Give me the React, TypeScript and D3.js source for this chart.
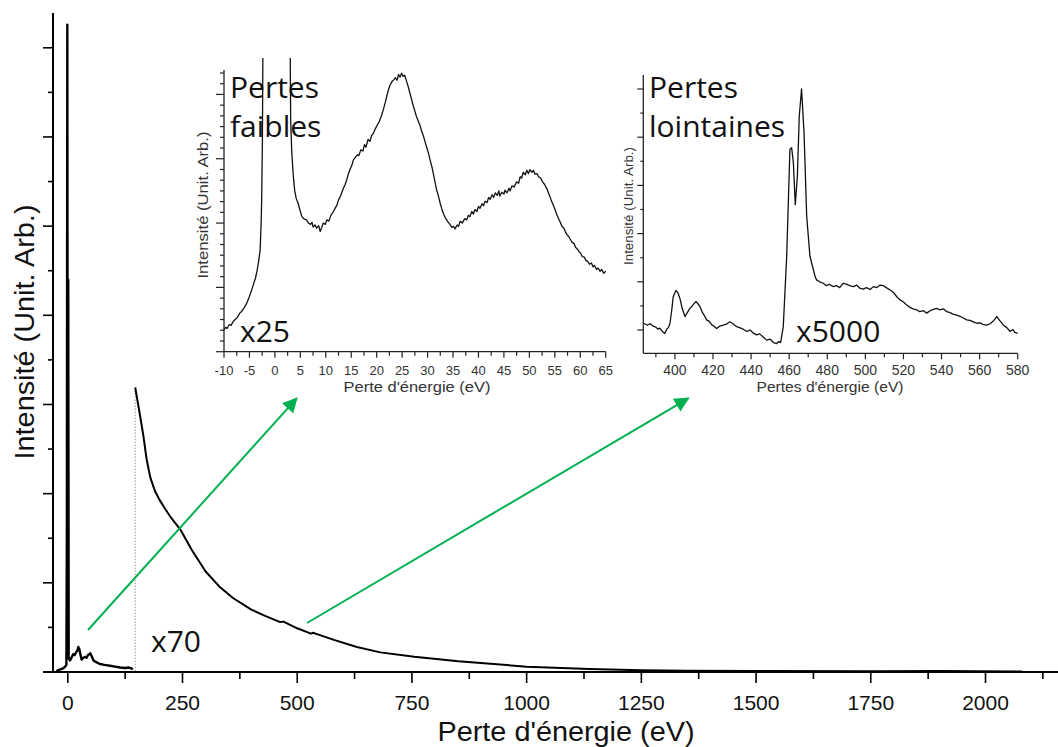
import React from "react";
import * as d3 from "d3";

// ---------- Main spectrum data (eV, intensity a.u.) ----------
const lowLossEV = [-25, -21, -10, -6, -3, -2, -1, 0, 1, 2, 5, 8, 12, 15, 18, 21, 23, 25, 27, 30, 34, 38, 41, 44, 47, 49, 52, 56, 62, 70, 80, 92, 103, 114, 125, 133, 139, 142];
const lowLossI = [0.01, 0.02, 0.04, 0.06, 0.08, 1.56, 7.26, 0.5, 4.4, 0.15, 0.13, 0.16, 0.2, 0.19, 0.22, 0.24, 0.28, 0.26, 0.21, 0.14, 0.16, 0.17, 0.16, 0.19, 0.2, 0.21, 0.18, 0.13, 0.11, 0.09, 0.08, 0.07, 0.06, 0.05, 0.045, 0.05, 0.04, 0.03];

const tailEV = [147, 150, 155, 160, 165, 172, 180, 190, 200, 212, 225, 245, 270, 300, 330, 360, 400, 430, 463, 470, 500, 530, 535, 540, 580, 630, 681, 755, 851, 1000, 1137, 1250, 1350, 1500, 1750, 1900, 2080];
const tailI = [3.19, 3.1, 2.95, 2.8, 2.64, 2.38, 2.18, 2.03, 1.93, 1.83, 1.73, 1.6, 1.37, 1.13, 0.96, 0.83, 0.7, 0.63, 0.56, 0.565, 0.49, 0.43, 0.44, 0.43, 0.36, 0.28, 0.22, 0.17, 0.12, 0.06, 0.035, 0.02, 0.015, 0.01, 0.008, 0.01, 0.005];

const mainXTicks = [0, 250, 500, 750, 1000, 1250, 1500, 1750, 2000];
const mainXMinor = [125, 375, 625, 875, 1125, 1375, 1625, 1875, 2125];
const mainYMajor = [0, 1, 2, 3, 4, 5, 6, 7];
const mainYMinor = [0.5, 1.5, 2.5, 3.5, 4.5, 5.5, 6.5];

// ---------- Inset 1: low losses (x25) ----------
const lowEV = [-10, -9.7, -9.4, -9.0, -8.6, -8.2, -7.8, -7.4, -6.9, -6.5, -6.0, -5.5, -5.0, -4.6, -4.2, -3.8, -3.5, -3.2, -2.9, -2.7, -2.6, -2.45, -2.35, 3.0, 3.1, 3.3, 3.6, 3.9, 4.2, 4.6, 5.0, 5.3, 5.8, 6.2, 6.6, 7.0, 7.3, 7.5, 7.9, 8.2, 8.6, 8.9, 9.2, 9.5, 9.9, 10.2, 10.6, 11.0, 11.5, 11.9, 12.2, 12.5, 12.9, 13.4, 13.8, 14.1, 14.5, 14.9, 15.2, 15.4, 15.8, 16.2, 16.5, 16.9, 17.3, 17.6, 17.9, 18.3, 18.7, 19.0, 19.3, 19.7, 20.1, 20.5, 20.9, 21.3, 21.7, 22.0, 22.3, 22.6, 23.0, 23.4, 23.7, 24.0, 24.3, 24.6, 24.9, 25.2, 25.5, 25.9, 26.2, 26.5, 26.8, 27.2, 27.5, 27.8, 28.1, 28.5, 28.8, 29.2, 29.6, 29.9, 30.2, 30.5, 30.9, 31.2, 31.5, 31.8, 32.2, 32.5, 32.8, 33.1, 33.5, 34.0, 34.4, 34.8, 35.1, 35.4, 35.8, 36.1, 36.4, 36.8, 37.3, 37.7, 38.0, 38.3, 38.7, 39.0, 39.3, 39.7, 40.0, 40.3, 40.7, 41.0, 41.3, 41.7, 42.0, 42.3, 42.7, 43.0, 43.3, 43.7, 44.0, 44.2, 44.6, 45.0, 45.2, 45.6, 46.0, 46.2, 46.6, 47.0, 47.5, 47.9, 48.2, 48.5, 48.8, 49.2, 49.5, 49.8, 50.1, 50.5, 50.8, 51.1, 51.5, 51.8, 52.2, 52.6, 53.0, 53.4, 53.8, 54.1, 54.4, 54.8, 55.1, 55.4, 55.8, 56.1, 56.4, 56.8, 57.1, 57.4, 57.8, 58.1, 58.4, 58.8, 59.1, 59.4, 59.8, 60.1, 60.4, 60.8, 61.1, 61.5, 61.8, 62.2, 62.5, 62.8, 63.2, 63.5, 63.9, 64.2, 64.6, 65];
const lowI = [0.34, 0.38, 0.36, 0.42, 0.41, 0.47, 0.5, 0.53, 0.6, 0.63, 0.69, 0.76, 0.86, 0.95, 1.05, 1.15, 1.26, 1.4, 1.58, 2.0, 2.36, 3.3, 4.8, 4.8, 3.6, 3.13, 2.75, 2.5, 2.38, 2.3, 2.18, 2.1, 2.06, 2.05, 2.0, 1.98, 2.01, 1.94, 1.97, 1.92, 1.96, 1.87, 1.93, 2.0, 1.98, 2.05, 2.03, 2.12, 2.18, 2.24, 2.28, 2.36, 2.42, 2.53, 2.6, 2.67, 2.78, 2.86, 2.92, 2.98, 3.02, 3.06, 3.05, 3.14, 3.12, 3.22, 3.18, 3.3, 3.27, 3.36, 3.39, 3.46, 3.52, 3.58, 3.66, 3.76, 3.88, 3.98, 4.07, 4.14, 4.2, 4.23, 4.26, 4.22, 4.31, 4.27, 4.33, 4.28, 4.3, 4.2, 4.12, 4.03, 3.94, 3.82, 3.74, 3.66, 3.6, 3.52, 3.44, 3.35, 3.24, 3.16, 3.08, 2.98, 2.86, 2.74, 2.62, 2.51, 2.4, 2.3, 2.22, 2.15, 2.08, 2.02, 1.98, 1.93, 1.95, 1.91, 1.97, 1.95, 2.03, 2.0, 2.07, 2.05, 2.12, 2.1, 2.18, 2.14, 2.21, 2.18, 2.26, 2.23, 2.3, 2.27, 2.34, 2.32, 2.4, 2.37, 2.44, 2.4, 2.47, 2.43, 2.5, 2.42, 2.48, 2.45, 2.51, 2.47, 2.54, 2.5, 2.58, 2.56, 2.64, 2.62, 2.72, 2.7, 2.79, 2.75, 2.82, 2.77, 2.83, 2.79, 2.82, 2.76, 2.77, 2.72, 2.7, 2.64, 2.6, 2.54, 2.46, 2.4, 2.33, 2.26, 2.2, 2.13, 2.06, 2.01, 1.95, 1.92, 1.86, 1.82, 1.78, 1.74, 1.7, 1.68, 1.62, 1.6, 1.55, 1.53, 1.48, 1.47, 1.42, 1.4, 1.36, 1.38, 1.32, 1.34, 1.28, 1.3, 1.25, 1.28, 1.22, 1.25];
const lowXTicks = [-10, -5, 0, 5, 10, 15, 20, 25, 30, 35, 40, 45, 50, 55, 60, 65];

// ---------- Inset 2: core losses (x5000) ----------
const coreEV = [383.7, 385.5, 387, 388.6, 390, 391, 392.1, 393.4, 394.7, 395.8, 396.6, 397.4, 398.3, 399.1, 400.5, 401.5, 402.6, 403.8, 405.3, 406.5, 407.9, 409.5, 411.0, 412.0, 413.1, 414.5, 415.5, 416.6, 418, 419.5, 420.5, 421.9, 423.5, 425.4, 427, 428.9, 430.5, 432.4, 434, 435.7, 437.7, 439.5, 441, 442.9, 444.5, 446.5, 448.2, 450, 451.8, 453.4, 454.5, 455.5, 456.9, 458.7, 460.4, 461.3, 462.2, 463.2, 464.3, 465.3, 466.5, 467.8, 469.2, 470.9, 472.7, 473.7, 474.4, 476, 477.9, 479.5, 481, 483.2, 485, 486.5, 488.4, 490, 491.8, 493.7, 495.5, 497, 498.9, 500.5, 502.5, 504.2, 506, 507.6, 509.5, 511, 513.0, 514.8, 516.5, 518, 520, 521.7, 523.5, 525, 527.0, 528.5, 530.5, 532.2, 534, 535.7, 537.5, 539, 541, 542.7, 544.5, 546, 548.0, 550, 551.5, 553.2, 555, 556.7, 558.5, 560.3, 562, 563.7, 565.5, 567.5, 569.0, 570.5, 572.5, 574.3, 576.0, 577.5, 578.5, 580];
const coreI = [0.14, 0.1, 0.13, 0.08, 0.06, 0.02, 0.04, -0.03, -0.07, 0.02, 0.05, 0.14, 0.4, 0.69, 0.82, 0.78, 0.66, 0.45, 0.28, 0.36, 0.45, 0.52, 0.59, 0.55, 0.49, 0.36, 0.3, 0.21, 0.18, 0.1, 0.08, 0.03, 0.08, 0.1, 0.12, 0.17, 0.13, 0.07, 0.05, 0.02, -0.03, 0.0, -0.06, -0.1, -0.08, -0.15, -0.21, -0.19, -0.26, -0.28, -0.24, -0.26, 0.07, 1.53, 3.75, 3.78, 3.47, 2.6, 3.19, 4.44, 5.0, 4.1, 2.36, 1.53, 1.25, 1.1, 1.04, 1.0, 0.97, 0.92, 0.95, 0.9, 0.92, 0.88, 0.97, 0.95, 0.92, 0.9, 0.93, 0.87, 0.85, 0.88, 0.84, 0.9, 0.88, 0.93, 0.92, 0.88, 0.83, 0.78, 0.69, 0.63, 0.58, 0.52, 0.47, 0.44, 0.42, 0.38, 0.4, 0.35, 0.4, 0.43, 0.45, 0.42, 0.44, 0.38, 0.36, 0.33, 0.31, 0.28, 0.25, 0.21, 0.2, 0.17, 0.14, 0.15, 0.11, 0.1, 0.13, 0.2, 0.28, 0.2, 0.1, 0.05, -0.03, 0.01, -0.05, -0.07];
const coreXTicks = [400, 420, 440, 460, 480, 500, 520, 540, 560, 580];

const W = 1058;
const H = 747;
const AX = "Liberation Sans, Arial, sans-serif";
const ANN = "Open Sans, Noto Sans, sans-serif";
const GREEN = "#00b050";

export default function App() {
  // main scales
  const x = d3.scaleLinear().domain([-54, 2158]).range([43, 1058]);
  const y = d3.scaleLinear().domain([0, 7.39]).range([672, 13]);
  const line = d3.line<[number, number]>().x((d) => x(d[0])).y((d) => y(d[1]));
  const lowLossPts = lowLossEV.map((e, i) => [e, lowLossI[i]] as [number, number]);
  const tailPts = tailEV.map((e, i) => [e, tailI[i]] as [number, number]);

  // inset 1 scales
  const x1 = d3.scaleLinear().domain([-10, 65]).range([224, 605.7]);
  const y1 = d3.scaleLinear().domain([0, 4.38]).range([351.7, 70]);
  const line1 = d3.line<[number, number]>().x((d) => x1(d[0])).y((d) => y1(d[1]));
  const lowPts = lowEV.map((e, i) => [e, lowI[i]] as [number, number]);
  const x1Minor = d3.range(-7.5, 65, 5);
  const y1Major = d3.range(0, 5, 1);
  const y1Minor = d3.range(1, 27).filter((k) => k % 6 !== 0).map((k) => k / 6);

  // inset 2 scales
  const x2 = d3.scaleLinear().domain([383.4, 580]).range([643.3, 1017.7]);
  const y2 = d3.scaleLinear().domain([-0.483, 5.29]).range([353.3, 75]);
  const line2 = d3.line<[number, number]>().x((d) => x2(d[0])).y((d) => y2(d[1]));
  const corePts = coreEV.map((e, i) => [e, coreI[i]] as [number, number]);
  const x2Minor = d3.range(390, 580, 20);
  const y2Major = d3.range(0, 6, 1);
  const y2Minor = d3.range(0.5, 5, 1);

  return (
    <svg width={W} height={H} style={{ position: "absolute", left: 0, top: 0, background: "#fff" }}>
      <defs>
        <clipPath id="clip1">
          <rect x={220} y={58} width={390} height={300} />
        </clipPath>
        <marker id="arr" viewBox="0 0 10 10" refX={9} refY={5} markerWidth={16} markerHeight={15} markerUnits="userSpaceOnUse" orient="auto">
          <path d="M0,0 L10,5 L0,10 Z" fill={GREEN} />
        </marker>
      </defs>

      {/* ===== Main axes ===== */}
      <line x1={43} x2={1058} y1={y(0)} y2={y(0)} stroke="#000" strokeWidth={2} />
      <line x1={53} x2={53} y1={13} y2={y(0)} stroke="#000" strokeWidth={2} />
      {mainXTicks.map((t) => (
        <g key={"mx" + t}>
          <line x1={x(t)} x2={x(t)} y1={y(0)} y2={y(0) + 11} stroke="#000" strokeWidth={1.6} />
          <text x={x(t)} y={710} textAnchor="middle" fontFamily={AX} fontSize={21} fill="#111">{t}</text>
        </g>
      ))}
      {mainXMinor.map((t) => (
        <line key={"mxm" + t} x1={x(t)} x2={x(t)} y1={y(0)} y2={y(0) + 7} stroke="#000" strokeWidth={1.6} />
      ))}
      {mainYMajor.map((t) => (
        <line key={"my" + t} x1={43} x2={53} y1={y(t)} y2={y(t)} stroke="#000" strokeWidth={1.6} />
      ))}
      {mainYMinor.map((t) => (
        <line key={"mym" + t} x1={48} x2={53} y1={y(t)} y2={y(t)} stroke="#000" strokeWidth={1.6} />
      ))}
      <text x={566} y={741} textAnchor="middle" fontFamily={AX} fontSize={27} textLength={257} lengthAdjust="spacingAndGlyphs" fill="#111">Perte d'énergie (eV)</text>
      <text transform="translate(34,332) rotate(-90)" textAnchor="middle" fontFamily={AX} fontSize={27} textLength={255} lengthAdjust="spacingAndGlyphs" fill="#111">Intensité (Unit. Arb.)</text>

      {/* main spectrum */}
      <line x1={x(tailEV[0])} x2={x(tailEV[0])} y1={y(tailI[0])} y2={y(0)} stroke="#999" strokeWidth={1} strokeDasharray="1.5,1.5" />
      <path d={line(lowLossPts) || ""} fill="none" stroke="#000" strokeWidth={2.4} strokeLinejoin="round" />
      <path d={line(tailPts) || ""} fill="none" stroke="#000" strokeWidth={2} strokeLinejoin="round" />
      <text x={151} y={652} fontFamily={ANN} fontSize={30} fill="#111">x70</text>

      {/* arrows */}
      <line x1={88} y1={630} x2={296.7} y2={398.3} stroke={GREEN} strokeWidth={2} markerEnd="url(#arr)" />
      <line x1={307} y1={623} x2={688.3} y2={398.3} stroke={GREEN} strokeWidth={2} markerEnd="url(#arr)" />

      {/* ===== Inset 1 ===== */}
      <line x1={224} x2={605.7} y1={y1(0)} y2={y1(0)} stroke="#222" strokeWidth={1.3} />
      <line x1={224} x2={224} y1={70} y2={y1(0)} stroke="#222" strokeWidth={1.3} />
      {lowXTicks.map((t) => (
        <g key={"lx" + t}>
          <line x1={x1(t)} x2={x1(t)} y1={y1(0)} y2={y1(0) + 6} stroke="#222" strokeWidth={1.2} />
          <text x={x1(t)} y={375} textAnchor="middle" fontFamily={AX} fontSize={13} fill="#333">{t}</text>
        </g>
      ))}
      {x1Minor.map((t) => (
        <line key={"lxm" + t} x1={x1(t)} x2={x1(t)} y1={y1(0)} y2={y1(0) + 4} stroke="#222" strokeWidth={1.2} />
      ))}
      {y1Major.map((t) => (
        <line key={"ly" + t} x1={216} x2={224} y1={y1(t)} y2={y1(t)} stroke="#222" strokeWidth={1.2} />
      ))}
      {y1Minor.map((t) => (
        <line key={"lym" + t} x1={220} x2={224} y1={y1(t)} y2={y1(t)} stroke="#222" strokeWidth={1.2} />
      ))}
      <text x={417} y={392} textAnchor="middle" fontFamily={AX} fontSize={15} textLength={147} lengthAdjust="spacingAndGlyphs" fill="#333">Perte d'énergie (eV)</text>
      <text transform="translate(208,205) rotate(-90)" textAnchor="middle" fontFamily={AX} fontSize={14} textLength={147} lengthAdjust="spacingAndGlyphs" fill="#333">Intensité (Unit. Arb.)</text>
      <path d={line1(lowPts) || ""} fill="none" stroke="#111" strokeWidth={1.3} clipPath="url(#clip1)" strokeLinejoin="round" />
      <text x={230} y={98} fontFamily={ANN} fontSize={30} fill="#111">Pertes</text>
      <text x={230} y={137} fontFamily={ANN} fontSize={30} fill="#111">faibles</text>
      <text x={240} y={342} fontFamily={ANN} fontSize={30} fill="#111">x25</text>

      {/* ===== Inset 2 ===== */}
      <line x1={643.3} x2={1017.7} y1={353.3} y2={353.3} stroke="#222" strokeWidth={1.3} />
      <line x1={643.3} x2={643.3} y1={75} y2={353.3} stroke="#222" strokeWidth={1.3} />
      {coreXTicks.map((t) => (
        <g key={"cx" + t}>
          <line x1={x2(t)} x2={x2(t)} y1={353.3} y2={359.3} stroke="#222" strokeWidth={1.2} />
          <text x={x2(t)} y={375} textAnchor="middle" fontFamily={AX} fontSize={14} fill="#333">{t}</text>
        </g>
      ))}
      {x2Minor.map((t) => (
        <line key={"cxm" + t} x1={x2(t)} x2={x2(t)} y1={353.3} y2={357.3} stroke="#222" strokeWidth={1.2} />
      ))}
      {y2Major.map((t) => (
        <line key={"cy" + t} x1={637.3} x2={643.3} y1={y2(t)} y2={y2(t)} stroke="#222" strokeWidth={1.2} />
      ))}
      {y2Minor.map((t) => (
        <line key={"cym" + t} x1={640.3} x2={643.3} y1={y2(t)} y2={y2(t)} stroke="#222" strokeWidth={1.2} />
      ))}
      <text x={830} y={392} textAnchor="middle" fontFamily={AX} fontSize={15} textLength={147} lengthAdjust="spacingAndGlyphs" fill="#333">Pertes d'énergie (eV)</text>
      <text transform="translate(633,206) rotate(-90)" textAnchor="middle" fontFamily={AX} fontSize={12} textLength={118} lengthAdjust="spacingAndGlyphs" fill="#333">Intensité (Unit. Arb.)</text>
      <path d={line2(corePts) || ""} fill="none" stroke="#111" strokeWidth={1.3} strokeLinejoin="round" />
      <text x={649} y={98} fontFamily={ANN} fontSize={30} fill="#111">Pertes</text>
      <text x={649} y={137} fontFamily={ANN} fontSize={30} fill="#111">lointaines</text>
      <text x={796} y={342} fontFamily={ANN} fontSize={30} fill="#111">x5000</text>
    </svg>
  );
}
